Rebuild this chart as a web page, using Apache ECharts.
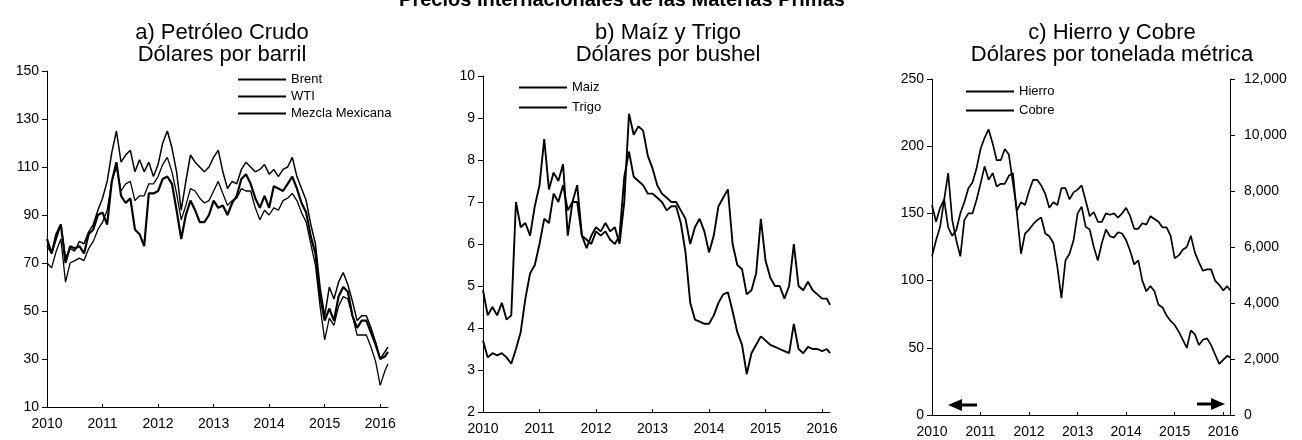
<!DOCTYPE html>
<html>
<head>
<meta charset="utf-8">
<title>Precios Internacionales de las Materias Primas</title>
<script src="https://cdn.jsdelivr.net/npm/echarts@6/dist/echarts.min.js"></script>
<style>
  html, body { margin: 0; padding: 0; background: #fff; }
  #grafica { width: 1302px; height: 440px; }
</style>
</head>
<body>
<div id="grafica"></div>
<script>
// fechas mensuales (años decimales) ene-2010 .. feb-2016, más el último dato
const fechas = []
for (let i = 0; i < 74; i++) fechas.push(2010 + i / 12)
fechas.push(2016.14)

// a) Petróleo crudo, dólares por barril
const brent = [
  77, 74, 80, 86, 72, 76, 75, 79, 78, 83, 86, 92,
  97, 104, 116, 125, 112, 115, 117, 108, 113, 108, 112, 106,
  111, 120, 125, 118, 108, 92, 104, 115, 112, 110, 108, 110,
  114, 117, 108, 101, 104, 103, 109, 112, 110, 108, 109, 111,
  107, 109, 106, 109, 110, 114, 106, 101, 96, 86, 78, 60,
  48, 60, 55, 62, 66, 61, 54, 46, 48, 48, 43, 37,
  30, 33, 35
]
const wti = [
  80, 74, 82, 86, 70, 77, 76, 77, 74, 82, 84, 90,
  91, 86, 104, 112, 98, 95, 97, 84, 82, 77, 99, 99,
  100, 105, 106, 103, 92, 80, 90, 96, 92, 87, 87, 90,
  96, 93, 94, 90, 95, 98, 105, 107, 103, 97, 93, 98,
  93, 102, 101, 100, 103, 106, 101, 95, 91, 81, 74, 56,
  46, 51, 46, 56, 60, 58, 48, 43, 46, 46, 41, 36,
  30, 31, 33
]
const mezcla = [
  70, 68, 75, 80, 62, 70, 71, 72, 71, 76, 79, 84,
  87, 92, 104, 110, 100, 103, 104, 96, 98, 98, 103, 103,
  106, 111, 114, 108, 99, 88, 94, 101, 100, 97, 95, 96,
  100, 104, 99, 94, 96, 97, 101, 100, 100, 93, 88, 92,
  90, 93, 92, 96, 97, 99, 96, 91, 87, 78, 69, 52,
  38, 47, 44, 52, 56, 55, 48, 40, 40, 40, 35, 29,
  19, 25, 28
]

// b) Maíz y trigo, dólares por bushel
const maiz = [
  3.7, 3.3, 3.4, 3.35, 3.4, 3.3, 3.15, 3.5, 3.9, 4.7, 5.3, 5.5,
  6.0, 6.6, 6.5, 7.2, 7.0, 7.4, 6.8, 7.0, 7.0, 6.2, 6.1, 6.0,
  6.3, 6.2, 6.3, 6.1, 6.0, 6.2, 7.6, 8.2, 7.6, 7.5, 7.4, 7.2,
  7.2, 7.1, 7.0, 6.8, 6.9, 6.9, 6.5, 5.8, 4.6, 4.2, 4.15, 4.1,
  4.1, 4.3, 4.6, 4.8, 4.85, 4.4, 3.9, 3.6, 2.9, 3.4, 3.6, 3.8,
  3.7, 3.6, 3.55, 3.5, 3.45, 3.4, 4.1, 3.5, 3.4, 3.55, 3.5, 3.5,
  3.45, 3.5, 3.4
]
const trigo = [
  4.9, 4.3, 4.5, 4.3, 4.6, 4.2, 4.3, 7.0, 6.4, 6.5, 6.2, 6.9,
  7.4, 8.5, 7.3, 7.7, 7.5, 7.9, 6.2, 7.0, 7.4, 6.2, 5.9, 6.2,
  6.4, 6.3, 6.5, 6.3, 6.4, 6.0, 7.0, 9.1, 8.6, 8.8, 8.7, 8.1,
  7.8, 7.4, 7.2, 7.1, 7.0, 7.0, 6.8, 6.6, 6.0, 6.4, 6.6, 6.3,
  5.8, 6.2, 6.9, 7.1, 7.3, 6.0, 5.5, 5.4, 4.8, 4.9, 5.3, 6.6,
  5.6, 5.2, 5.0, 5.0, 4.7, 5.0, 6.0, 5.0, 4.9, 5.1, 4.9, 4.8,
  4.7, 4.7, 4.55
]

// c) Hierro (eje izq.) y cobre (eje der.), dólares por tonelada métrica
const hierro = [
  118, 130, 140, 160, 180, 145, 130, 118, 145, 150, 150, 160,
  172, 185, 175, 180, 170, 172, 172, 178, 180, 150, 120, 135,
  138, 142, 145, 147, 135, 133, 128, 110, 87, 115, 120, 130,
  150, 155, 140, 138, 125, 115, 128, 138, 133, 132, 136, 135,
  130, 122, 112, 115, 100, 92, 96, 92, 82, 80, 74, 70,
  67, 62, 56, 50, 63, 60, 52, 56, 57, 52, 45, 38,
  41, 44, 43
]
const cobre = [
  7500, 6900, 7400, 7700, 6700, 6400, 6600, 7200, 7600, 8100, 8300, 8800,
  9500, 9900, 10200, 9700, 9100, 9100, 9500, 9300, 8300, 7300, 7600, 7500,
  8000, 8400, 8400, 8200, 7900, 7400, 7600, 7500, 8100, 8100, 7700, 7950,
  8050, 8200, 7650, 7100, 7250, 6900, 6900, 7200, 7150, 7200, 7050, 7200,
  7400, 7100, 6650, 6650, 6850, 6800, 7100, 7000, 6900, 6700, 6700, 6400,
  5600, 5700, 5900, 6000, 6400, 5800, 5450, 5150, 5200, 5200, 4800, 4650,
  4450, 4600, 4450
]

const fuente = 'Liberation Sans, Arial, sans-serif'
const pares = vals => fechas.map((x, i) => [x, vals[i]])

// eje X de años común a los tres paneles
function ejeX(grid) {
  return {
    type: 'value', gridIndex: grid, min: 2010, max: 2016.14, interval: 1,
    axisLine: { lineStyle: { color: '#000', width: 1 } },
    axisTick: { inside: true, length: 3, lineStyle: { color: '#000' } },
    axisLabel: {
      color: '#000', fontSize: 14, fontFamily: fuente, margin: 10, showMaxLabel: false,
      formatter: v => (Number.isInteger(v) ? String(v) : '')
    },
    splitLine: { show: false }
  }
}
function ejeY(grid, min, max, interval, pos, fmt) {
  return {
    type: 'value', gridIndex: grid, min: min, max: max, interval: interval, position: pos,
    axisLine: { show: true, lineStyle: { color: '#000', width: 1 } },
    axisTick: { show: true, length: 5, lineStyle: { color: '#000' } },
    axisLabel: { color: '#000', fontSize: 14, fontFamily: fuente, margin: pos === 'right' ? 14 : 8, formatter: fmt },
    splitLine: { show: false }
  }
}
function linea(nombre, vals, x, y, ancho) {
  return {
    type: 'line', name: nombre, xAxisIndex: x, yAxisIndex: y, data: pares(vals),
    symbol: 'none', animation: false,
    lineStyle: { color: '#000', width: ancho }, itemStyle: { color: '#000' }
  }
}
// leyenda sólo con la línea (sin el símbolo circular)
function leyenda(nombres, left, top, gap) {
  return {
    data: nombres, orient: 'vertical', left: left, top: top,
    itemWidth: 48, itemHeight: 14, itemGap: gap, selectedMode: false,
    itemStyle: { opacity: 0 },
    textStyle: { color: '#000', fontSize: 13, fontFamily: fuente }
  }
}
function titulo(texto, x, y, size, peso) {
  return { text: texto, left: x, top: y, textAlign: 'center',
    textStyle: { color: '#000', fontSize: size, fontWeight: peso || 'normal', fontFamily: fuente } }
}

const miles = v => String(v).replace(/\B(?=(\d{3})+(?!\d))/g, ',')

const myChart = echarts.init(document.getElementById('grafica'), null, { renderer: 'canvas' })
const option = {
  backgroundColor: '#fff',
  animation: false,
  title: [
    titulo('Precios Internacionales de las Materias Primas', 617, -15, 20, 'bold'),
    titulo('a) Petróleo Crudo', 217, 17, 22),
    titulo('Dólares por barril', 217, 39, 22),
    titulo('b) Maíz y Trigo', 663, 17, 22),
    titulo('Dólares por bushel', 663, 39, 22),
    titulo('c) Hierro y Cobre', 1107, 17, 22),
    titulo('Dólares por tonelada métrica', 1107, 39, 22)
  ],
  grid: [
    { left: 47, top: 71, width: 341, height: 336 },
    { left: 483, top: 76, width: 347, height: 336 },
    { left: 932, top: 79, width: 298, height: 336 }
  ],
  legend: [
    leyenda(['Brent', 'WTI', 'Mezcla Mexicana'], 232, 68, 4),
    leyenda(['Maiz', 'Trigo'], 513, 76, 7),
    leyenda(['Hierro', 'Cobre'], 960, 80, 6)
  ],
  xAxis: [ejeX(0), ejeX(1), ejeX(2)],
  yAxis: [
    ejeY(0, 10, 150, 20, 'left'),
    ejeY(1, 2, 10, 1, 'left'),
    ejeY(2, 0, 250, 50, 'left'),
    ejeY(2, 0, 12000, 2000, 'right', miles)
  ],
  series: [
    linea('Brent', brent, 0, 0, 1.5),
    linea('WTI', wti, 0, 0, 2.2),
    linea('Mezcla Mexicana', mezcla, 0, 0, 1.3),
    linea('Maiz', maiz, 1, 1, 1.9),
    linea('Trigo', trigo, 1, 1, 1.9),
    linea('Hierro', hierro, 2, 2, 1.7),
    linea('Cobre', cobre, 2, 3, 1.7)
  ],
  // flechas que indican el eje de cada serie en el panel c
  graphic: [
    { type: 'polygon', shape: { points: [[948, 405], [962, 399], [962, 411]] }, style: { fill: '#000' } },
    { type: 'rect', shape: { x: 961, y: 403.5, width: 16, height: 3 }, style: { fill: '#000' } },
    { type: 'polygon', shape: { points: [[1225, 404], [1211, 398], [1211, 410]] }, style: { fill: '#000' } },
    { type: 'rect', shape: { x: 1197, y: 402.5, width: 15, height: 3 }, style: { fill: '#000' } }
  ]
}
myChart.setOption(option)
</script>
</body>
</html>
